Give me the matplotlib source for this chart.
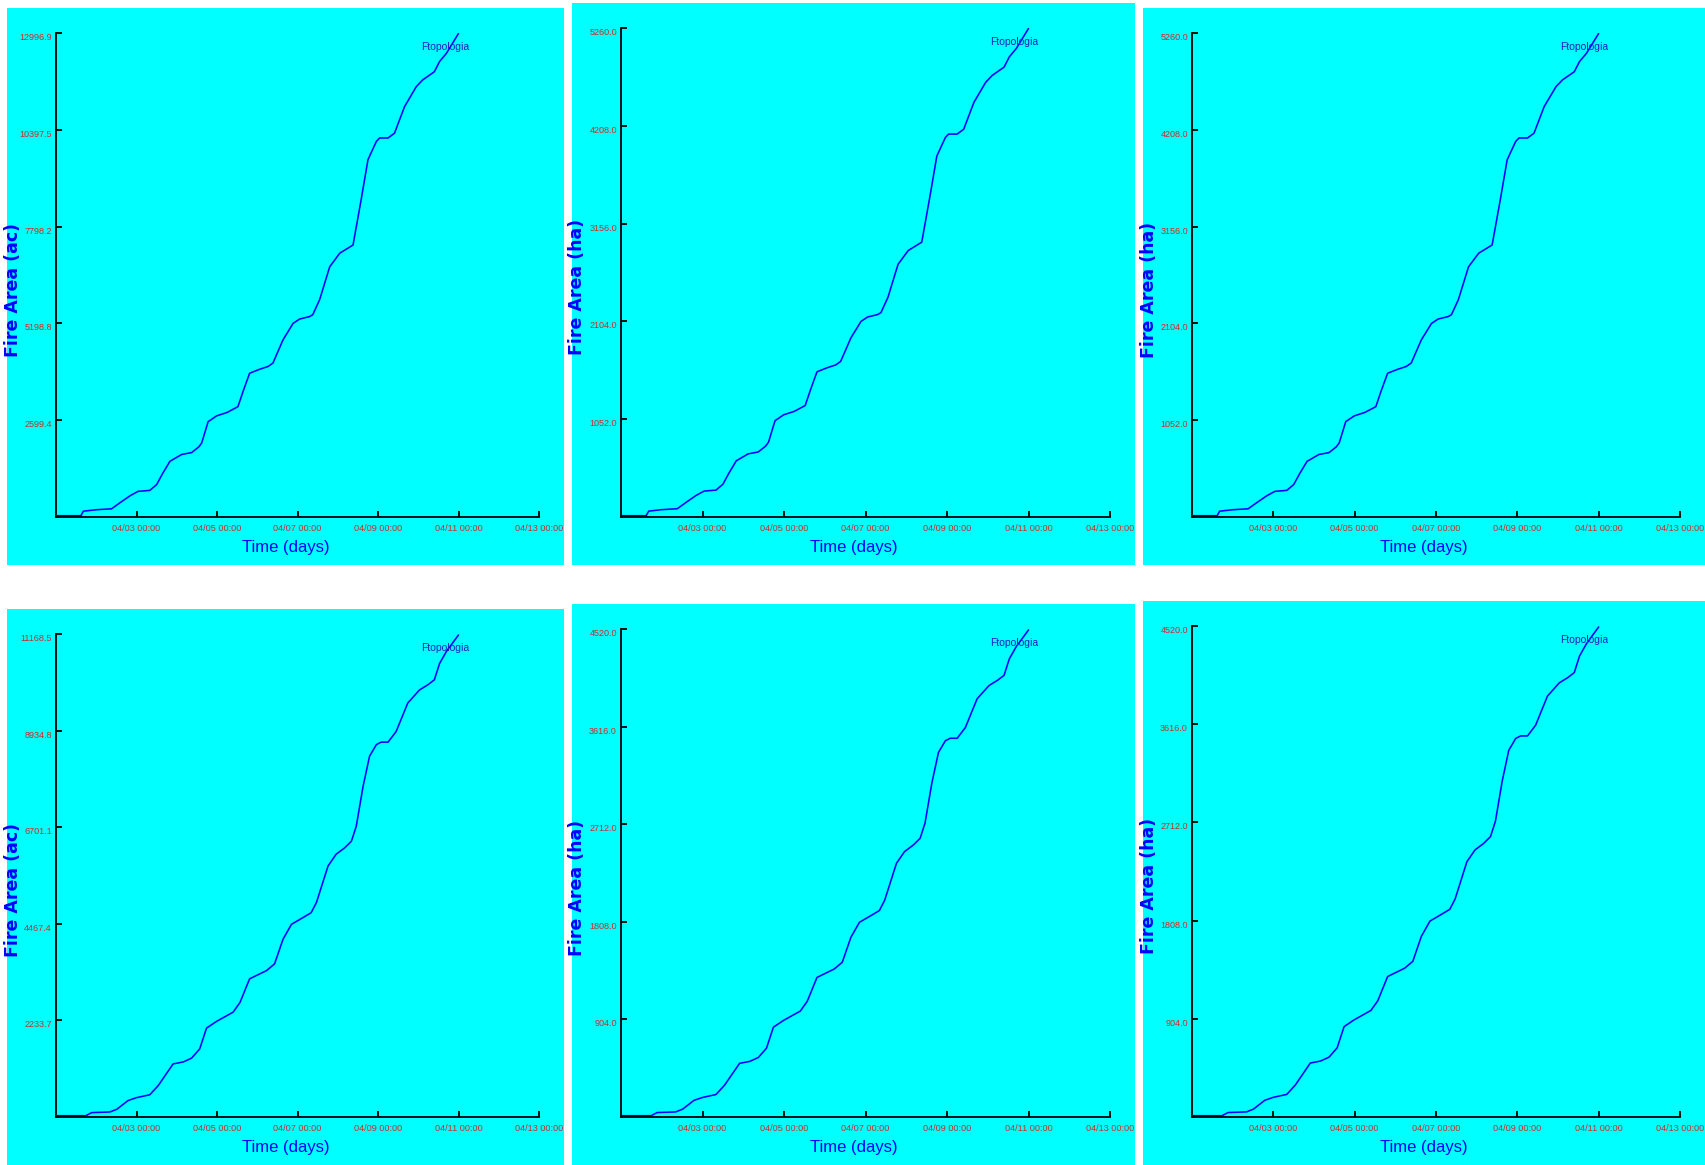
import matplotlib
matplotlib.use("Agg")
import matplotlib.pyplot as plt
import matplotlib.dates as mdates
from matplotlib.patches import Rectangle
import numpy as np
import pandas as pd

# ---- data -------------------------------------------------------------
START = pd.Timestamp("2020-04-01 00:00")
END = pd.Timestamp("2020-04-13 00:00")
TICK_STEP_DAYS = 2
FIRE_NAME = "Ftopologia"

# elapsed time (days after 04/01 00:00) and burned area (ha), run A
ELAPSED_A = [0, 0.60, 0.68, 1.00, 1.38, 1.60, 1.84, 2.04, 2.33, 2.50,
             2.65, 2.83, 3.12, 3.37, 3.55, 3.62, 3.78, 3.99, 4.25, 4.52,
             4.65, 4.81, 5.05, 5.27, 5.39, 5.64, 5.89, 6.05, 6.30, 6.38,
             6.55, 6.80, 7.05, 7.38, 7.58, 7.75, 7.96, 8.04, 8.25, 8.41,
             8.66, 8.95, 9.11, 9.40, 9.53, 9.70, 10.0]
AREA_HA_A = [0, 0, 63, 79, 89, 158, 231, 279, 289, 352,
             473, 605, 679, 700, 763, 805, 1036, 1099, 1136, 1199,
             1368, 1562, 1604, 1636, 1673, 1925, 2104, 2151, 2178, 2199,
             2362, 2719, 2867, 2956, 3445, 3882, 4082, 4119, 4119, 4171,
             4460, 4676, 4750, 4839, 4950, 5039, 5255]

# run B
ELAPSED_B = [0, 0.68, 0.886, 1.34, 1.51, 1.79, 2.0, 2.33, 2.54, 2.91,
             3.16, 3.37, 3.57, 3.74, 3.99, 4.40, 4.57, 4.81, 5.23, 5.43,
             5.64, 5.85, 6.14, 6.34, 6.47, 6.76, 6.96, 7.17, 7.34, 7.46,
             7.63, 7.79, 7.96, 8.08, 8.25, 8.45, 8.74, 9.03, 9.24, 9.40,
             9.53, 9.70, 10.0]
AREA_HA_B = [0, 0, 41, 47, 72, 154, 181, 208, 294, 497,
             515, 551, 637, 832, 895, 981, 1071, 1293, 1370, 1433,
             1663, 1803, 1867, 1912, 2007, 2350, 2459, 2518, 2581, 2721,
             3096, 3376, 3485, 3508, 3508, 3607, 3874, 3996, 4045, 4091,
             4244, 4357, 4511]

AXIS_MAX_HA = [5260.0, 4520.0]          # top of the y axis per run
ACRES_PER_HA = 2.4709
ROW_UNITS = ["ac", "ha", "ha"]          # units of the three columns

# ---- layout (pixels) --------------------------------------------------
W, H = 1705, 1165
PANELS = [  # (left, top, right, bottom)
    [(7, 8, 564, 565), (572, 3, 1135, 565), (1143, 8, 1705, 565)],
    [(7, 609, 564, 1165), (572, 604, 1135, 1165), (1143, 601, 1705, 1165)],
]
INSET_L, INSET_R, INSET_T, INSET_B = 49, 25, 25, 48

CYAN = "#00ffff"
LINE_BLUE = "#0000ff"
TICK_RED = "#d02828"
LABEL_BLUE = "#0000ff"
NARROW = ["Liberation Sans Narrow", "Liberation Sans", "DejaVu Sans"]

fig = plt.figure(figsize=(W / 100, H / 100), dpi=100)
fig.patch.set_facecolor("white")

runs = [(ELAPSED_A, AREA_HA_A), (ELAPSED_B, AREA_HA_B)]
xticks = pd.date_range(START + pd.Timedelta(days=TICK_STEP_DAYS), END,
                       freq=f"{TICK_STEP_DAYS}D")

for r, (elapsed, area_ha) in enumerate(runs):
    times = START + pd.to_timedelta(np.asarray(elapsed), unit="D")
    for c, unit in enumerate(ROW_UNITS):
        left, top, right, bottom = PANELS[r][c]
        fig.patches.append(Rectangle((left / W, 1 - bottom / H),
                                     (right - left) / W, (bottom - top) / H,
                                     transform=fig.transFigure,
                                     facecolor=CYAN, edgecolor="none",
                                     zorder=-5))
        ax_l = left + INSET_L
        ax_t = top + INSET_T
        ax_w = (right - INSET_R) - ax_l
        ax_h = (bottom - INSET_B) - ax_t
        ax = fig.add_axes([ax_l / W, 1 - (ax_t + ax_h) / H, ax_w / W, ax_h / H])
        ax.set_facecolor("none")

        factor = ACRES_PER_HA if unit == "ac" else 1.0
        ymax = AXIS_MAX_HA[r] * factor
        values = np.asarray(area_ha) * factor

        ax.plot(times, values, color=LINE_BLUE, lw=1.15,
                solid_joinstyle="round", solid_capstyle="round")
        ax.plot(times[:2], values[:2], color="#0000a0", lw=3.0)

        ax.set_xlim(START, END)
        ax.set_ylim(0, ymax)

        for side in ("top", "right"):
            ax.spines[side].set_visible(False)
        for side in ("left", "bottom"):
            ax.spines[side].set_color("black")
            ax.spines[side].set_linewidth(1.3)

        yt = np.linspace(0, ymax, 6)[1:]
        ax.set_yticks(yt)
        ax.set_yticklabels([f"{v:.1f}" for v in yt])
        ax.set_xticks(xticks)
        ax.xaxis.set_major_formatter(mdates.DateFormatter("%m/%d %H:%M"))
        ax.tick_params(axis="both", direction="in", length=4, width=1.3,
                       colors="black", labelcolor=TICK_RED)
        ax.tick_params(axis="y", pad=3, labelsize=6.5)
        ax.tick_params(axis="x", pad=5, labelsize=6.6)
        for lbl in ax.get_yticklabels() + ax.get_xticklabels():
            lbl.set_fontfamily(NARROW)
        for lbl in ax.get_yticklabels():
            lbl.set_verticalalignment("top")

        ax.text(-0.089, 0.47, f"Fire Area ({unit})", transform=ax.transAxes,
                rotation=90, ha="center", va="center", color=LABEL_BLUE,
                fontsize=12.5, fontweight="bold", family="DejaVu Sans")
        ax.text(0.476, -0.063, "Time (days)", transform=ax.transAxes,
                ha="center", va="center", color=LABEL_BLUE, fontsize=12,
                family=NARROW)
        ax.text(0.755, 0.971, FIRE_NAME, transform=ax.transAxes,
                ha="left", va="center", color="#2020c0", fontsize=7.5,
                family=NARROW)

fig.savefig("out.png", dpi=100, facecolor="white")
